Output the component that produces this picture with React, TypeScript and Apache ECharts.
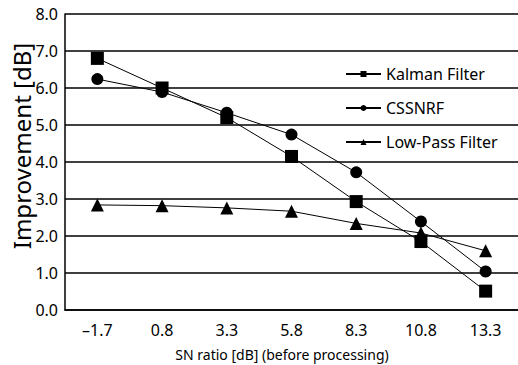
import React, { useEffect, useRef } from "react";
import * as echarts from "echarts";

const categories = ["\u20131.7", "0.8", "3.3", "5.8", "8.3", "10.8", "13.3"];
const kalman = [6.8, 6.0, 5.2, 4.15, 2.93, 1.85, 0.51];
const cssnrf = [6.24, 5.89, 5.33, 4.74, 3.72, 2.39, 1.04];
const lowPass = [2.84, 2.82, 2.76, 2.67, 2.34, 2.08, 1.6];
const seriesNames = ["Kalman Filter", "CSSNRF", "Low-Pass Filter"];
const yTitle = "Improvement [dB]";
const xTitle = "SN ratio [dB] (before processing)";

const FONT = "Noto Sans";

export default function App() {
  const ref = useRef<HTMLDivElement>(null);
  useEffect(() => {
    if (!ref.current) return;
    const chart = echarts.init(ref.current, undefined, { renderer: "svg" });
    const mk = (name: string, data: number[], symbol: string, size: number) => ({
      name,
      type: "line",
      data,
      symbol,
      symbolSize: size,
      showAllSymbol: true,
      lineStyle: { color: "#000", width: 1 },
      itemStyle: { color: "#000" },
      emphasis: { disabled: true },
    });
    chart.setOption({
      animation: false,
      backgroundColor: "#fff",
      grid: { left: 65, top: 14, width: 455, height: 296, containLabel: false },
      legend: {
        orient: "vertical",
        left: 340,
        top: 61,
        itemWidth: 35,
        itemHeight: 7.5,
        itemGap: 18,
        textStyle: { fontFamily: FONT, fontSize: 16, color: "#000" },
        data: seriesNames,
      },
      xAxis: {
        type: "category",
        data: categories,
        boundaryGap: true,
        axisLine: { lineStyle: { color: "#000", width: 1.5 } },
        axisTick: { inside: true, length: 5, lineStyle: { color: "#000", width: 1.2 } },
        axisLabel: { fontFamily: FONT, fontSize: 16, color: "#000", margin: 12 },
        splitLine: { show: false },
      },
      yAxis: {
        type: "value",
        min: 0,
        max: 8,
        interval: 1,
        axisLine: { show: true, lineStyle: { color: "#000", width: 1.5 } },
        axisTick: { show: false },
        axisLabel: {
          fontFamily: FONT,
          fontSize: 16,
          color: "#000",
          margin: 7,
          formatter: (v: number) => v.toFixed(1),
        },
        splitLine: { lineStyle: { color: "#000", width: 1.5 } },
      },
      graphic: [
        {
          type: "text",
          x: 21,
          y: 146,
          rotation: Math.PI / 2,
          style: {
            text: yTitle,
            fontFamily: FONT,
            fontSize: 24,
            fill: "#000",
            align: "center",
            verticalAlign: "middle",
          },
        },
        {
          type: "text",
          x: 282,
          y: 354,
          style: {
            text: xTitle,
            fontFamily: FONT,
            fontSize: 14,
            fill: "#000",
            align: "center",
            verticalAlign: "middle",
          },
        },
      ],
      series: [
        mk(seriesNames[0], kalman, "rect", 13),
        mk(seriesNames[1], cssnrf, "circle", 12),
        mk(seriesNames[2], lowPass, "triangle", 13),
      ],
    });
    return () => chart.dispose();
  }, []);
  return <div ref={ref} style={{ width: 518, height: 365, position: "absolute", left: 0, top: 0 }} />;
}
